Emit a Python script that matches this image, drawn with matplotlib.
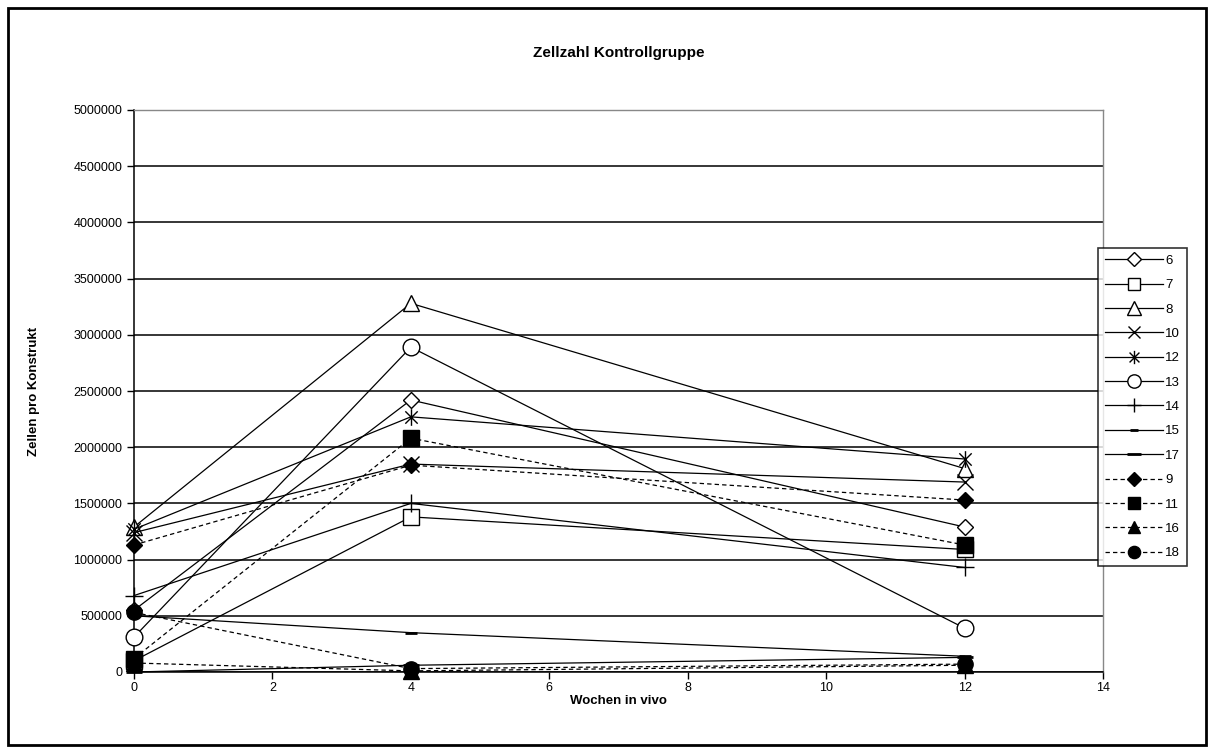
import matplotlib
matplotlib.use("Agg")
import matplotlib.pyplot as plt
from matplotlib.path import Path
from matplotlib.patches import Rectangle
from matplotlib.ticker import FuncFormatter, MultipleLocator

plt.rcParams['font.family'] = ['Liberation Sans', 'DejaVu Sans']

# ---------------- data ----------------
weeks = [0, 4, 12]
s6 = [550000, 2420000, 1290000]
s7 = [100000, 1380000, 1090000]
s8 = [1290000, 3280000, 1810000]
s10 = [1240000, 1850000, 1690000]
s12 = [1270000, 2270000, 1895000]
s13 = [310000, 2890000, 390000]
s14 = [680000, 1500000, 930000]
s15 = [500000, 350000, 140000]
s17 = [0, 60000, 130000]
s9 = [1130000, 1840000, 1530000]
s11 = [120000, 2080000, 1130000]
s16 = [80000, 10000, 60000]
s18 = [530000, 30000, 70000]

labels = ["6", "7", "8", "10", "12", "13", "14", "15", "17", "9", "11", "16", "18"]
series = [s6, s7, s8, s10, s12, s13, s14, s15, s17, s9, s11, s16, s18]

title = "Zellzahl Kontrollgruppe"
xlabel = "Wochen in vivo"
ylabel = "Zellen pro Konstrukt"

# ---------------- styles ----------------
asterisk = Path([(-1, -1), (1, 1), (-1, 1), (1, -1), (0, -1.35), (0, 1.35)],
                [Path.MOVETO, Path.LINETO, Path.MOVETO, Path.LINETO, Path.MOVETO, Path.LINETO])

styles = [
    dict(marker='D', ms=8.5, mfc='white', ls='-'),
    dict(marker='s', ms=11, mfc='white', ls='-'),
    dict(marker='^', ms=12, mfc='white', ls='-'),
    dict(marker='x', ms=11, mfc='white', ls='-'),
    dict(marker=asterisk, ms=12, mfc='white', ls='-'),
    dict(marker='o', ms=12, mfc='white', ls='-'),
    dict(marker='+', ms=13, mfc='white', ls='-'),
    dict(marker='_', ms=8, mfc='black', ls='-', mew=2),
    dict(marker='_', ms=12, mfc='black', ls='-', mew=2),
    dict(marker='D', ms=8.5, mfc='black', ls='--'),
    dict(marker='s', ms=11, mfc='black', ls='--'),
    dict(marker='^', ms=11, mfc='black', ls='--'),
    dict(marker='o', ms=11, mfc='black', ls='--'),
]

fig = plt.figure(figsize=(12.14, 7.53), dpi=100)
ax = fig.add_axes([134 / 1214, 81 / 753, (1103 - 134) / 1214, (672 - 110) / 753])

for y, lab, st in zip(series, labels, styles):
    st = dict(st)
    mew = st.pop('mew', 1.0)
    ls = st.pop('ls')
    kw = {}
    if ls == '--':
        kw['dashes'] = (3.5, 2.5)
    ax.plot(weeks, y, color='black', lw=0.9, ls=ls, mec='black', mew=mew,
            label=lab, clip_on=False, zorder=3, **st, **kw)

ax.set_xlim(0, 14)
ax.set_ylim(0, 5000000)
ax.xaxis.set_major_locator(MultipleLocator(2))
ax.yaxis.set_major_locator(MultipleLocator(500000))
ax.yaxis.set_major_formatter(FuncFormatter(lambda v, p: f"{int(round(v))}"))
ax.xaxis.set_major_formatter(FuncFormatter(lambda v, p: f"{int(round(v))}"))
ax.grid(axis='y', color='black', lw=1.1, zorder=1)
ax.set_axisbelow(True)
ax.tick_params(axis='both', labelsize=9, length=5, width=1, color='black', direction='out')
ax.tick_params(axis='x', pad=2)
for sp in ['left', 'bottom']:
    ax.spines[sp].set_color('black')
    ax.spines[sp].set_linewidth(1.1)
for sp in ['top', 'right']:
    ax.spines[sp].set_color('#888888')
    ax.spines[sp].set_linewidth(1.0)

ax.set_title(title, fontsize=11, fontweight='bold', pad=38)
ax.set_xlabel(xlabel, fontsize=9.5, fontweight='bold', labelpad=1)
ax.set_ylabel(ylabel, fontsize=9.5, fontweight='bold', labelpad=24)

leg = fig.legend(loc='upper left', bbox_to_anchor=(1098 / 1214, (753 - 248) / 753),
                 fontsize=9.5, frameon=True, fancybox=False, edgecolor='black',
                 handlelength=4.4, handletextpad=0.2, labelspacing=0.92,
                 borderpad=0.5, borderaxespad=0, markerscale=0.8)
leg.get_frame().set_linewidth(1.2)

fig.patches.append(Rectangle((8 / 1214, 8 / 753), 1198 / 1214, 737 / 753,
                             transform=fig.transFigure, fill=False,
                             edgecolor='black', lw=2))

fig.savefig("out.png", dpi=100)
